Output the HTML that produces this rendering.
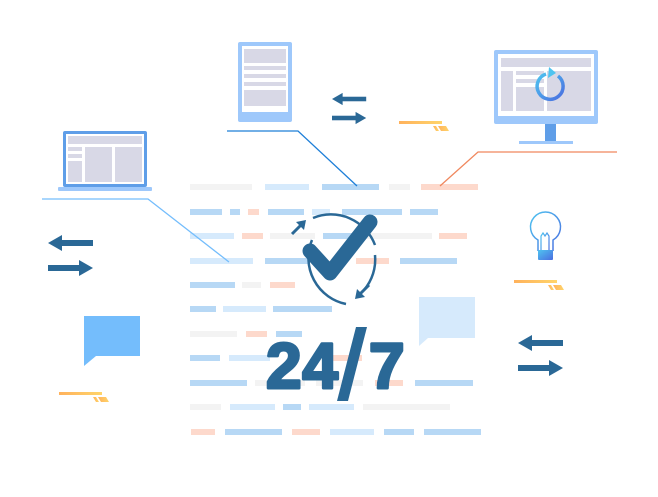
<!DOCTYPE html>
<html><head><meta charset="utf-8"><style>html,body{margin:0;padding:0;background:#fff}svg{display:block}</style></head><body>
<svg width="658" height="497" viewBox="0 0 658 497" xmlns="http://www.w3.org/2000/svg">
<defs>
<linearGradient id="bg" x1="0" y1="0" x2="1" y2="1"><stop offset="0" stop-color="#4fc4f0"/><stop offset="1" stop-color="#4a6de0"/></linearGradient>
<linearGradient id="og" x1="0" y1="0" x2="1" y2="0"><stop offset="0" stop-color="#ffb25c"/><stop offset="1" stop-color="#ffd46a"/></linearGradient>
<g id="dash"><rect x="0" y="0" width="43" height="3" fill="url(#og)"/><polygon points="34,5 37,5 40,10 37,10" fill="url(#og)"/><polygon points="39,5 47,5 50,10 42,10" fill="url(#og)"/></g>
<g id="arr" fill="#2a6896"><rect x="13" y="-3" width="32" height="6"/><polygon points="0,0 14,-8 14,8"/><rect x="0" y="22" width="32" height="6"/><polygon points="45,25 31,17 31,33"/></g>
</defs>
<g>
<g fill="#f3f3f3">
<rect x="190" y="184" width="62" height="6"/><rect x="389" y="184" width="21" height="6"/><rect x="270" y="233" width="45" height="6"/><rect x="352" y="233" width="80" height="6"/><rect x="242" y="282" width="19" height="6"/><rect x="190" y="331" width="47" height="6"/><rect x="255" y="380" width="50" height="6"/><rect x="316" y="380" width="47" height="6"/><rect x="190" y="404" width="31" height="6"/><rect x="363" y="404" width="87" height="6"/>
</g>
<g fill="#d6eafc">
<rect x="265" y="184" width="44" height="6"/><rect x="312" y="209" width="18" height="6"/><rect x="190" y="233" width="44" height="6"/><rect x="190" y="258" width="63" height="6"/><rect x="223" y="306" width="43" height="6"/><rect x="229" y="355" width="41" height="6"/><rect x="230" y="404" width="45" height="6"/><rect x="309" y="404" width="45" height="6"/><rect x="330" y="429" width="44" height="6"/>
</g>
<g fill="#b7d8f5">
<rect x="322" y="184" width="57" height="6"/><rect x="190" y="209" width="32" height="6"/><rect x="230" y="209" width="10" height="6"/><rect x="268" y="209" width="36" height="6"/><rect x="342" y="209" width="60" height="6"/><rect x="410" y="209" width="28" height="6"/><rect x="323" y="233" width="29" height="6"/><rect x="265" y="258" width="45" height="6"/><rect x="400" y="258" width="57" height="6"/><rect x="190" y="282" width="45" height="6"/><rect x="190" y="306" width="26" height="6"/><rect x="273" y="306" width="59" height="6"/><rect x="276" y="331" width="26" height="6"/><rect x="190" y="355" width="30" height="6"/><rect x="190" y="380" width="57" height="6"/><rect x="415" y="380" width="58" height="6"/><rect x="283" y="404" width="18" height="6"/><rect x="225" y="429" width="57" height="6"/><rect x="384" y="429" width="30" height="6"/><rect x="424" y="429" width="57" height="6"/>
</g>
<g fill="#fdd9cc">
<rect x="421" y="184" width="57" height="6"/><rect x="248" y="209" width="11" height="6"/><rect x="242" y="233" width="21" height="6"/><rect x="439" y="233" width="28" height="6"/><rect x="356" y="258" width="33" height="6"/><rect x="270" y="282" width="25" height="6"/><rect x="246" y="331" width="21" height="6"/><rect x="333" y="355" width="29" height="6"/><rect x="375" y="380" width="28" height="6"/><rect x="191" y="429" width="24" height="6"/><rect x="292" y="429" width="28" height="6"/>
</g>
</g>
<polyline points="42,199 148,199 229,262" fill="none" stroke="#74bdfc" stroke-width="1.3"/>
<polyline points="227,131 298,131 357,186" fill="none" stroke="#1e7fd8" stroke-width="1.3"/>
<polyline points="617,152 478,152 440,186" fill="none" stroke="#f0885e" stroke-width="1.3"/>
<rect x="63" y="131" width="84" height="56" rx="2" fill="#5f9ee8"/>
<rect x="66" y="134" width="78" height="50" fill="#fff"/>
<rect x="68" y="136" width="74" height="8" fill="#d8d8e6"/>
<rect x="68" y="147" width="14" height="4" fill="#d8d8e6"/><rect x="68" y="154" width="14" height="4" fill="#d8d8e6"/><rect x="68" y="161" width="14" height="21" fill="#d8d8e6"/>
<rect x="85" y="147" width="27" height="35" fill="#d8d8e6"/><rect x="115" y="147" width="27" height="35" fill="#d8d8e6"/>
<rect x="58" y="187" width="94" height="4" rx="1" fill="#9ec8fb"/>
<rect x="238" y="42" width="54" height="80" rx="2" fill="#9ec8fb"/>
<rect x="242" y="46" width="46" height="66" fill="#fff"/>
<rect x="244" y="49" width="42" height="14" fill="#d8d8e6"/>
<rect x="244" y="66" width="42" height="4" fill="#d8d8e6"/><rect x="244" y="74" width="42" height="4" fill="#d8d8e6"/><rect x="244" y="82" width="42" height="4" fill="#d8d8e6"/>
<rect x="244" y="90" width="42" height="16" fill="#d8d8e6"/>
<rect x="494" y="50" width="104" height="74" rx="2" fill="#9ec8fb"/>
<rect x="498" y="54" width="96" height="62" fill="#fff"/>
<rect x="501" y="58" width="90" height="9" fill="#d8d8e6"/>
<rect x="501" y="71" width="12" height="40" fill="#d8d8e6"/>
<rect x="516" y="71" width="28" height="4" fill="#d8d8e6"/><rect x="516" y="79" width="28" height="4" fill="#d8d8e6"/><rect x="516" y="87" width="28" height="24" fill="#d8d8e6"/>
<rect x="547" y="71" width="44" height="40" fill="#d8d8e6"/>
<path d="M558,76 A13,13 0 1 1 546,74" fill="none" stroke="url(#bg)" stroke-width="3.5"/>
<polygon points="549,67 556,73 548,78" fill="#4fc4f0"/>
<rect x="545" y="124" width="11" height="17" fill="#5f9ee8"/>
<rect x="519" y="141" width="54" height="3" fill="#9ec8fb"/>
<use href="#arr" x="48" y="243"/>
<use href="#arr" x="332" y="99" transform="translate(332 99) scale(0.76) translate(-332 -99)"/>
<use href="#arr" x="518" y="343"/>
<use href="#dash" x="399" y="121"/>
<use href="#dash" x="514" y="280"/>
<use href="#dash" x="59" y="392"/>
<path d="M84,316 H140 V356 H96 L84,366 Z" fill="#74bdfc"/>
<path d="M419,297 H475 V338 H428 L419,346 Z" fill="#d6eafc"/>
<path d="M538,251 V240 A15,15 0 1 1 553,240 V251" fill="none" stroke="url(#bg)" stroke-width="1.5"/>
<path d="M541,251 V236 L543,233 L545,236 L547,233 L549,236 V251" fill="none" stroke="url(#bg)" stroke-width="1.2"/>
<rect x="538" y="250" width="15" height="10" rx="1" fill="url(#bg)"/>
<g fill="none" stroke="#2a6896" stroke-width="2.5">
<path d="M312,240 A47,47 0 0 0 346,304"/>
<path d="M313,218 A47,47 0 0 1 375,245"/>
<path d="M375,255 A47,47 0 0 1 364,290"/>
</g>
<g fill="#2a6896">
<line x1="292" y1="234" x2="302" y2="224" stroke="#2a6896" stroke-width="3"/>
<polygon points="306,220 296,222 304,230"/>
<line x1="369" y1="285" x2="359" y2="295" stroke="#2a6896" stroke-width="3"/>
<polygon points="355,299 365,297 357,289"/>
</g>
<polyline points="310,251 330,273 370,222" fill="none" stroke="#2a6896" stroke-width="15" stroke-linecap="round" stroke-linejoin="round"/>
<text x="266" y="388" font-family="Liberation Sans, sans-serif" font-weight="bold" font-size="64" fill="#2a6896" stroke="#2a6896" stroke-width="3" stroke-linejoin="round" textLength="72">24</text>
<polygon points="337,401 348,401 367,327 356,327" fill="#2a6896"/>
<text x="369" y="388" font-family="Liberation Sans, sans-serif" font-weight="bold" font-size="64" fill="#2a6896" stroke="#2a6896" stroke-width="3" stroke-linejoin="round">7</text>
</svg>
</body></html>
